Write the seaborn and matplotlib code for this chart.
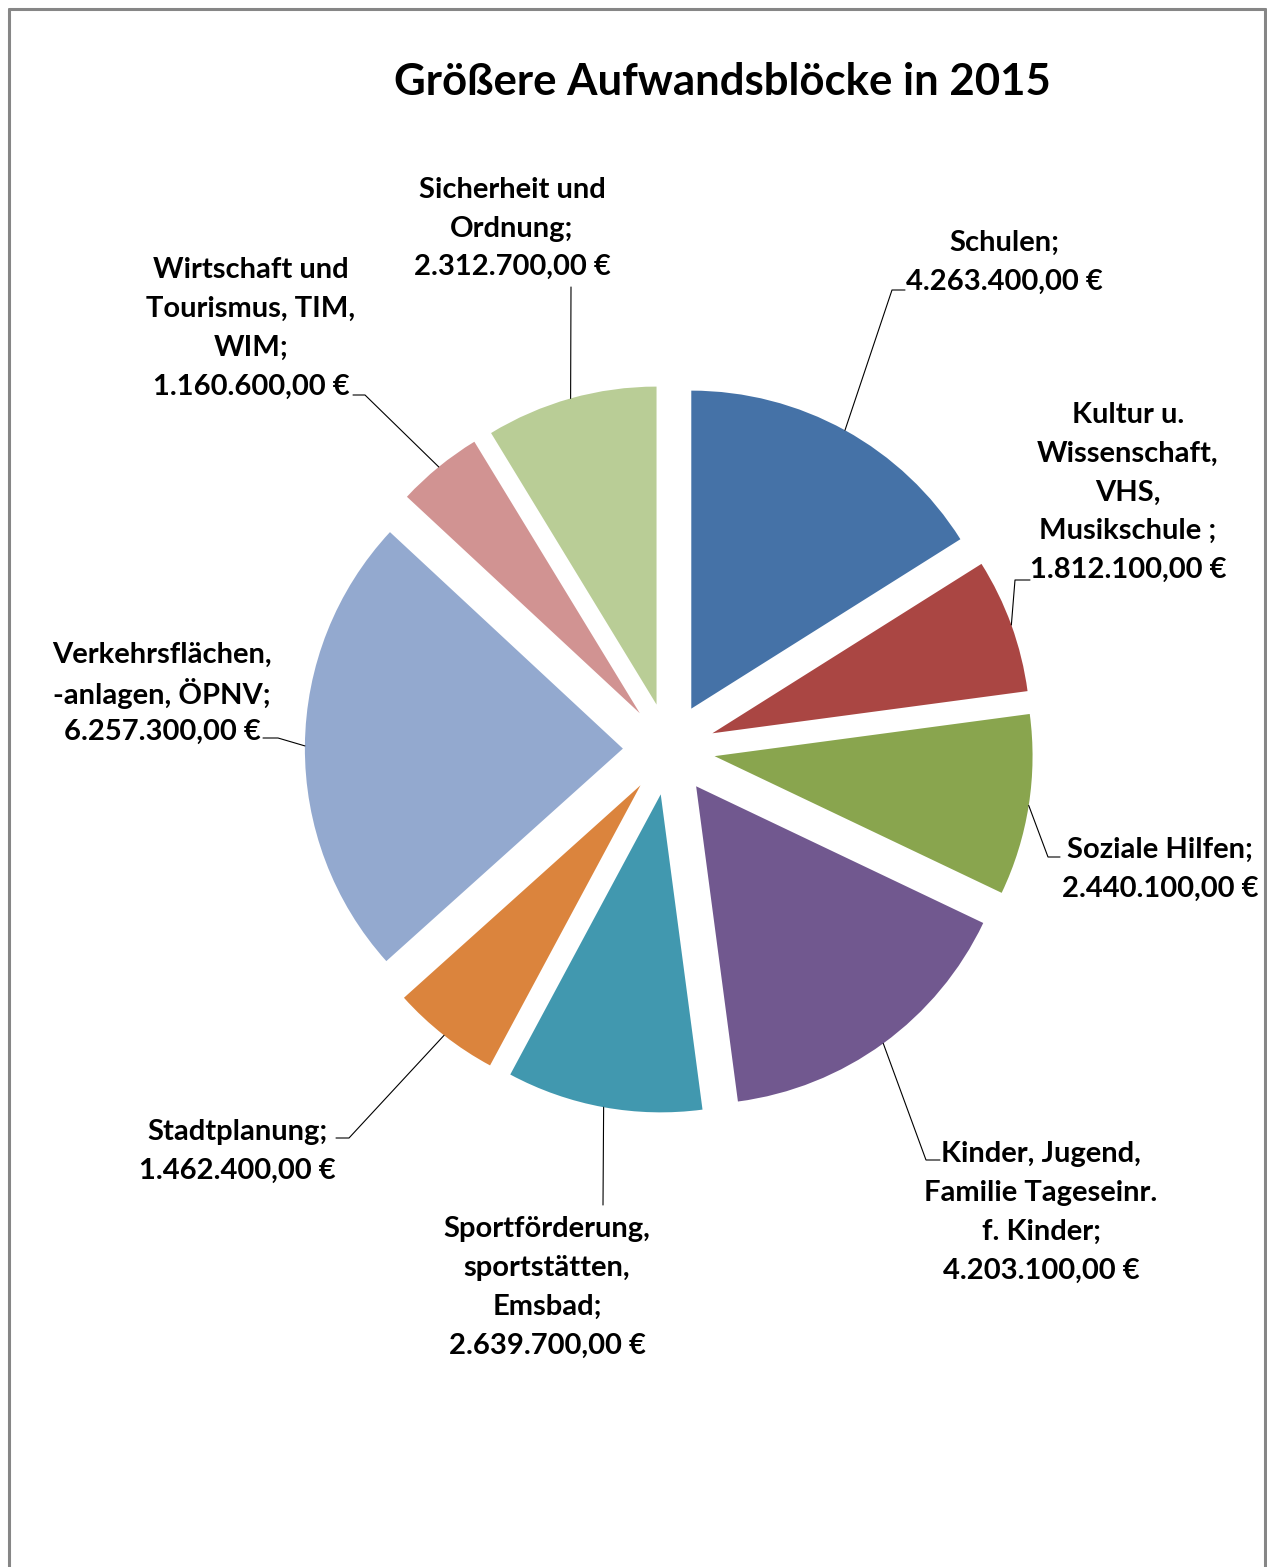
import numpy as np
import matplotlib
matplotlib.use('Agg')
import matplotlib.pyplot as plt
from matplotlib.lines import Line2D
import seaborn as sns

sns.set_theme(style='white')
plt.rcParams['font.family'] = ['Lato', 'DejaVu Sans']

# ── data ──────────────────────────────────────────────────────────────
categories = [
    'Schulen;',
    'Kultur u.\nWissenschaft,\nVHS,\nMusikschule ;',
    'Soziale Hilfen;',
    'Kinder, Jugend,\nFamilie Tageseinr.\nf. Kinder;',
    'Sportförderung,\nsportstätten,\nEmsbad;',
    'Stadtplanung;',
    'Verkehrsflächen,\n-anlagen, ÖPNV;',
    'Wirtschaft und\nTourismus, TIM,\nWIM;',
    'Sicherheit und\nOrdnung;',
]
values = [4263400, 1812100, 2440100, 4203100, 2639700,
          1462400, 6257300, 1160600, 2312700]
colors = ['#4572A7', '#AA4643', '#89A54E', '#71588F', '#4198AF',
          '#DB843D', '#93A9CF', '#D19392', '#B9CD96']

# ── layout (figure pixels, origin top-left) ───────────────────────────
W, H = 1267, 1567
CX, CY, R = 669, 749, 318
EXPLODE = 0.145
LINE_H = 38.7

# label centre, elbow points of leader line (from text side)
label_pos = [(1004, 260), (1128, 490), (1160, 867), (1041, 1210), (547, 1285),
             (237, 1149), (162, 691), (251, 326), (512, 226)]
leader = [
    [(905, 290), (892, 290)],
    [(1030, 580), (1015, 580)],
    [(1060, 857), (1048, 857)],
    [(940, 1160), (926, 1160)],
    [(603, 1205)],
    [(336, 1138), (349, 1138)],
    [(263, 738), (278, 738)],
    [(353, 395), (365, 395)],
    [(571, 287)],
]


def px(x, y):
    return (x - CX) / R, (CY - y) / R


def fmt_eur(v):
    s = f'{v:,.2f}'.replace(',', 'X').replace('.', ',').replace('X', '.')
    return s + ' €'


fig = plt.figure(figsize=(W / 100, H / 100), dpi=100, facecolor='white')
ax = fig.add_axes([0, 0, 1, 1])

pal = sns.color_palette(colors)
wedges, _ = ax.pie(values, colors=pal, startangle=90, counterclock=False,
                   explode=[EXPLODE] * len(values), radius=1,
                   wedgeprops={'linewidth': 0})

ax.set_xlim(-CX / R, (W - CX) / R)
ax.set_ylim(-(H - CY) / R, CY / R)
ax.set_aspect('equal', adjustable='box')
ax.axis('off')

for w, cat, v, pos, pts in zip(wedges, categories, values, label_pos, leader):
    mid = np.deg2rad((w.theta1 + w.theta2) / 2)
    cx, cy = w.center
    anchor = (cx + w.r * np.cos(mid), cy + w.r * np.sin(mid))
    path = [px(*p) for p in pts] + [anchor]
    ax.plot([p[0] for p in path], [p[1] for p in path], color='black', lw=0.8)
    lines = f'{cat}\n{fmt_eur(v)}'.split('\n')
    n = len(lines)
    for i, line in enumerate(lines):
        y = pos[1] + (i - (n - 1) / 2) * LINE_H
        ax.text(*px(pos[0], y), line, ha='center', va='center_baseline',
                fontsize=21, fontweight='bold', color='black')

ax.text(*px(722, 82), 'Größere Aufwandsblöcke in 2015', ha='center', va='center',
        fontsize=31.5, fontweight='bold', color='black')

# chart-area border
bc, bw = '#868686', 2.2
fig.add_artist(Line2D([8.5 / W, 8.5 / W], [0, 1 - 8.5 / H], color=bc, lw=bw))
fig.add_artist(Line2D([8.5 / W, 1264.5 / W], [1 - 8.5 / H, 1 - 8.5 / H], color=bc, lw=bw))
fig.add_artist(Line2D([1264.5 / W, 1264.5 / W], [0, 1 - 8.5 / H], color=bc, lw=bw))

fig.savefig('out.png', dpi=100, facecolor='white')
